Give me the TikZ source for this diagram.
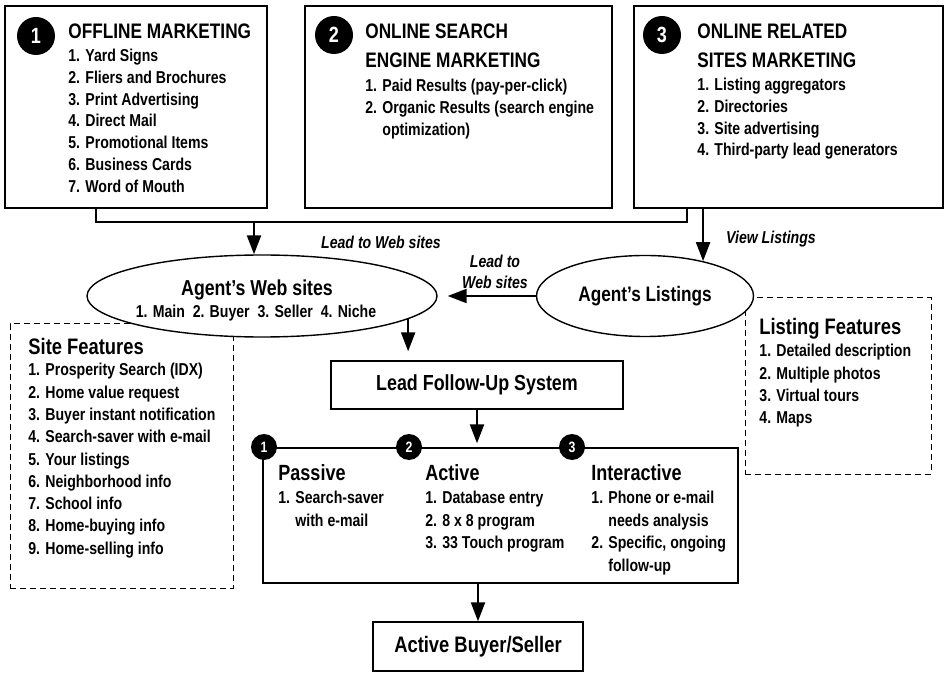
\documentclass[tikz,border=0pt]{standalone}
\usepackage{fontspec}
\setmainfont{Liberation Sans}[FakeStretch=0.82]
\usetikzlibrary{arrows.meta,shapes.geometric}

\begin{document}
\begin{tikzpicture}[x=0.5pt,y=-0.5pt,
	box/.style={draw, line width=0.7pt, inner sep=0pt},
	featbox/.style={draw, line width=0.5pt, dash pattern=on 3pt off 2pt, inner sep=0pt},
	oval/.style={draw, ellipse, fill=white, line width=0.7pt, inner sep=0pt},
	bignum/.style={circle, fill=black, text=white, inner sep=0pt, minimum size=19pt, font=\fontsize{11}{11}\selectfont\bfseries},
	smallnum/.style={circle, fill=black, text=white, inner sep=0pt, minimum size=13pt, font=\fontsize{7.5}{7.5}\selectfont\bfseries},
	head/.style={anchor=north west, inner sep=0pt, align=left, font=\fontsize{10.5}{14.5}\selectfont\bfseries},
	feathead/.style={anchor=north west, inner sep=0pt, align=left, font=\fontsize{11.2}{13}\selectfont\bfseries},
	items/.style={anchor=north west, inner sep=0pt, align=left, font=\fontsize{8.6}{10.85}\selectfont\bfseries},
	feats/.style={anchor=north west, inner sep=0pt, align=left, font=\fontsize{8.6}{11.15}\selectfont\bfseries},
	colhead/.style={anchor=north west, inner sep=0pt, align=left, font=\fontsize{11}{12}\selectfont\bfseries},
	colitems/.style={anchor=north west, inner sep=0pt, align=left, font=\fontsize{8.6}{11.2}\selectfont\bfseries},
	note/.style={inner sep=0pt, align=center, font=\fontsize{8.6}{10.5}\selectfont\bfseries\itshape},
	arr/.style={-{Triangle[length=9.5pt,width=7pt]}, line width=1.1pt}]

	\useasboundingbox (0,0) rectangle (947,673);

	% marketing sources
	\node[box, minimum width=131pt, minimum height=101pt] (offline) at (136,107) {};
	\node[box, minimum width=153.5pt, minimum height=101pt] (search) at (458.5,107) {};
	\node[box, minimum width=154.5pt, minimum height=101pt] (related) at (788.5,107) {};

	\node[bignum] (n1) at (36,36) {1};
	\node[bignum] (n2) at (334,35) {2};
	\node[bignum] (n3) at (662,35) {3};

	\node[head] (offhd) at (68,23) {OFFLINE MARKETING};
	\node[items] (offit) at (68,49) {1. Yard Signs\\2. Fliers and Brochures\\3. Print Advertising\\4. Direct Mail\\5. Promotional Items\\6. Business Cards\\7. Word of Mouth};
	\node[head] (srchd) at (365,23) {ONLINE SEARCH\\ENGINE MARKETING};
	\node[items] (srcit) at (365,79) {1. Paid Results (pay-per-click)\\2. Organic Results (search engine\\\phantom{2. }optimization)};
	\node[head] (relhd) at (697,23) {ONLINE RELATED\\SITES MARKETING};
	\node[items] (relit) at (697,78) {1. Listing aggregators\\2. Directories\\3. Site advertising\\4. Third-party lead generators};

	% feature boxes
	\node[featbox, minimum width=111.5pt, minimum height=132pt] (sitebox) at (121.5,456) {};
	\node[featbox, minimum width=93pt, minimum height=88pt] (lstbox) at (838,386) {};
	\node[feathead] (sitehd) at (28,338) {Site Features};
	\node[feats] (siteit) at (28,363) {1. Prosperity Search (IDX)\\2. Home value request\\3. Buyer instant notification\\4. Search-saver with e-mail\\5. Your listings\\6. Neighborhood info\\7. School info\\8. Home-buying info\\9. Home-selling info};
	\node[feathead] (lsthd) at (759,318) {Listing Features};
	\node[feats] (lstit) at (759,344) {1. Detailed description\\2. Multiple photos\\3. Virtual tours\\4. Maps};

	% web sites and listings
	\node[oval, minimum width=175pt, minimum height=41pt] (web) at (262,296) {};
	\node[anchor=base, inner sep=0pt, font=\fontsize{10.8}{12}\selectfont\bfseries] (webtl) at (257,296) {Agent’s Web sites};
	\node[anchor=base, inner sep=0pt, font=\fontsize{8.6}{10}\selectfont\bfseries] (websub) at (256,318) {1. Main\ \ 2. Buyer\ \ 3. Seller\ \ 4. Niche};
	\node[oval, minimum width=108.5pt, minimum height=40.5pt, font=\fontsize{10.5}{12}\selectfont\bfseries] (lst) at (645,296) {Agent’s Listings};

	\node[note] (lead1) at (381,242) {Lead to Web sites};
	\node[note] (lead2) at (495,272) {Lead to\\Web sites};
	\node[note] (view) at (771,239) {View Listings};

	% follow-up
	\node[box, minimum width=146pt, minimum height=24pt, font=\fontsize{10.9}{12}\selectfont\bfseries] (lead) at (477,385) {Lead Follow-Up System};
	\node[box, minimum width=237.5pt, minimum height=67.5pt] (follow) at (500.5,515.5) {};
	\node[smallnum] (p1) at (264,447) {1};
	\node[smallnum] (p2) at (409,447) {2};
	\node[smallnum] (p3) at (572,447) {3};
	\node[colhead] (pashd) at (278,464) {Passive};
	\node[colitems] (pasit) at (278,491) {1. Search-saver\\\phantom{1. }with e-mail};
	\node[colhead] (acthd) at (425,464) {Active};
	\node[colitems] (actit) at (425,491) {1. Database entry\\2. 8 x 8 program\\3. 33 Touch program};
	\node[colhead] (inthd) at (591,464) {Interactive};
	\node[colitems] (intit) at (591,491) {1. Phone or e-mail\\\phantom{1. }needs analysis\\2. Specific, ongoing\\\phantom{2. }follow-up};
	\node[box, minimum width=105pt, minimum height=24.5pt, font=\fontsize{11.2}{12}\selectfont\bfseries] (buyer) at (478,646.5) {Active Buyer/Seller};

	\coordinate (bl) at (96,222);
	\coordinate (br) at (687,222);
	\coordinate (bm) at (254,222);
	\draw[line width=0.7pt] (offline.south -| bl) |- (br) -- (related.south -| br);
	\draw[arr] (bm) -- (bm |- web.north);
	\draw[arr] (related.south -| lst.31) -- (lst.31);
	\draw[arr, shorten >=5pt] (lst) -- (web);
	\draw[arr, shorten >=4.5pt] (web.-9) -- (web.-9 |- lead.north);
	\draw[arr, shorten >=2pt] (lead) -- (lead |- follow.north);
	\draw[arr] (follow.south -| buyer) -- (buyer);

\end{tikzpicture}
\end{document}
